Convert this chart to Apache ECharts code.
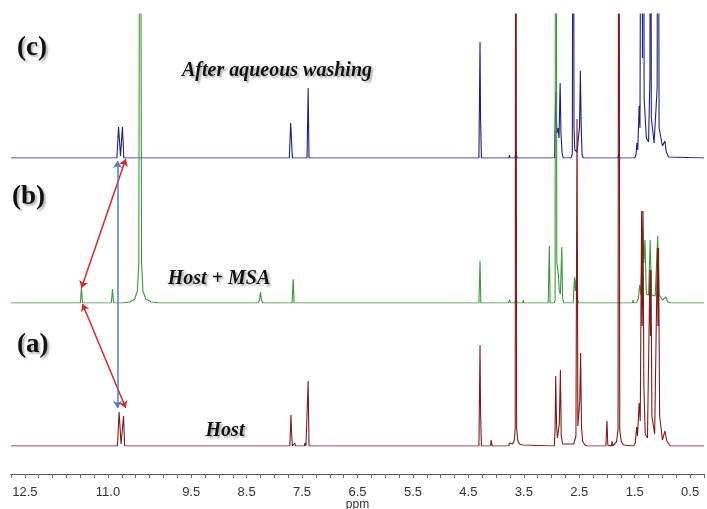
<!DOCTYPE html>
<html>
<head>
<meta charset="utf-8">
<script src="https://cdn.jsdelivr.net/npm/echarts@6/dist/echarts.min.js"></script>
<style>html,body{margin:0;padding:0;background:#fff;}#main{width:707px;height:509px;}</style>
</head>
<body>
<div id="main"></div>
<script>
// ---- axis ----
const xMin = 0.25, xMax = 12.75;
const tickStep = 0.25;
const tickLabels = [12.5, 11.0, 9.5, 8.5, 7.5, 6.5, 5.5, 4.5, 3.5, 2.5, 1.5, 0.5];
const axisName = 'ppm';

// ---- spectrum (c): After aqueous washing  [ppm, intensity] ----
const specC = [
  [12.75,0],[10.93,0],[10.91,2],[10.89,0],
  [10.84,0],[10.81,31],[10.775,2],[10.74,31],[10.715,0],
  [7.73,0],[7.705,35],[7.69,18],[7.675,0],
  [7.41,0],[7.39,70],[7.375,0],
  [7.25,0],[7.24,2],[7.23,0],[7.04,0],[7.03,1.5],[7.02,0],
  [5.40,0],[5.39,2],[5.38,0],[5.20,0],[5.19,1.5],[5.18,0],
  [4.31,0],[4.29,116],[4.28,40],[4.265,0],
  [3.77,0],[3.76,3],[3.75,0],[3.66,0],[3.64,5],[3.62,0],[3.52,0],[3.51,2],[3.50,0],
  [2.945,0],[2.925,66],[2.905,25],[2.885,30],[2.865,20],[2.845,75],[2.83,25],[2.81,5],[2.79,0],
  [2.65,0],[2.625,4],[2.61,600],[2.595,31],[2.58,8],[2.54,6],[2.495,31],[2.48,87],[2.465,31],[2.45,4],[2.43,0],
  [2.32,0],[2.31,2],[2.30,0],[2.11,0],[2.10,2],[2.09,0],[1.93,0],[1.92,2],[1.91,0],
  [1.80,0],[1.785,5],[1.77,0],[1.65,0],[1.64,2],[1.63,0],
  [1.50,0],[1.475,4],[1.46,15],[1.445,8],[1.42,52],[1.405,30],[1.375,600],[1.36,100],[1.345,600],
  [1.33,60],[1.29,20],[1.25,16],[1.225,81],[1.215,600],[1.20,40],[1.15,15],[1.095,70],[1.08,600],
  [1.06,30],[1.00,12],[0.955,17],[0.93,6],[0.89,1],[0.86,0],[0.25,0]
];

// ---- spectrum (b): Host + MSA ----
const specB = [
  [12.75,0],[11.50,0],[11.48,15],[11.46,0],
  [10.94,0],[10.92,14],[10.90,0],
  [10.75,0],[10.6,1],[10.52,4],[10.47,12],[10.445,40],[10.435,300],[10.42,1000],[10.405,300],
  [10.395,40],[10.37,12],[10.32,4],[10.22,1],[10.05,0],
  [8.29,0],[8.265,4],[8.25,11],[8.235,4],[8.21,0],
  [7.68,0],[7.66,24],[7.645,0],
  [4.31,0],[4.29,42],[4.275,0],
  [3.78,0],[3.76,3],[3.74,0],[3.66,0],[3.64,4],[3.62,0],[3.52,0],[3.51,3],[3.50,0],
  [3.06,0],[3.04,57],[3.025,0],
  [2.95,0],[2.935,3],[2.925,1000],[2.905,40],[2.89,35],[2.875,27],[2.86,12],[2.84,9],[2.815,56],[2.80,5],[2.78,0],
  [2.61,0],[2.585,26],[2.57,12],[2.555,24],[2.54,4],[2.53,6],[2.51,0],
  [2.02,0],[2.01,2],[2.00,0],[1.93,0],[1.92,2],[1.91,0],[1.69,0],[1.68,2],[1.67,0],[1.54,0],[1.53,3],[1.52,0],
  [1.47,0],[1.435,4],[1.41,18],[1.39,8],[1.355,75],[1.335,40],[1.315,63],[1.29,9],[1.25,8],
  [1.22,63],[1.20,8],[1.13,7],[1.085,67],[1.06,8],[1.00,3],[0.94,6],[0.90,1],[0.85,0],[0.25,0]
];

// ---- spectrum (a): Host ----
const specA = [
  [12.75,0],[10.83,0],[10.80,34],[10.765,2],[10.72,30],[10.70,0],
  [7.72,0],[7.70,31],[7.69,15],[7.675,0],[7.64,0],[7.63,3],[7.62,0],
  [7.46,0],[7.45,3],[7.43,0],[7.41,0],[7.39,65],[7.375,0],
  [4.31,0],[4.29,101],[4.28,33],[4.265,0],
  [4.10,0],[4.09,6],[4.08,4],[4.07,0],
  [3.77,0],[3.76,3],[3.75,1],[3.70,2],[3.67,6],[3.655,18],[3.645,1000],[3.63,18],[3.61,6],[3.58,2],
  [3.52,1],[3.51,3],[3.50,0],
  [2.95,0],[2.935,20],[2.925,70],[2.91,22],[2.895,8],[2.86,22],[2.84,76],[2.825,10],[2.80,2],[2.78,0],
  [2.60,2],[2.56,10],[2.54,327],[2.525,20],[2.49,46],[2.475,93],[2.46,20],[2.44,5],[2.40,1],[2.36,0],
  [2.02,0],[2.00,25],[1.985,1],[1.97,0],[1.92,0],[1.91,5],[1.90,0],
  [1.87,1],[1.83,4],[1.80,16],[1.785,1000],[1.77,16],[1.74,4],[1.70,1],
  [1.52,0],[1.49,3],[1.465,19],[1.45,10],[1.42,43],[1.40,25],[1.375,235],[1.365,120],[1.35,235],
  [1.335,60],[1.31,12],[1.27,8],[1.225,176],[1.215,110],[1.205,176],[1.19,30],[1.14,12],
  [1.09,198],[1.08,120],[1.07,198],[1.05,30],[1.00,6],[0.955,15],[0.92,5],[0.86,0],[0.25,0]
];

// ---- annotation arrows (grid 0 = c, 1 = b, 2 = a) ----
const arrows = [
  {from:[1, 11.48, 15], to:[0, 10.68, -1], color:'#e02424'},
  {from:[1, 11.46, -1], to:[2, 10.68, 38], color:'#e02424'},
  {from:[0, 10.83, -3], to:[2, 10.83, 38], color:'#4f7fc4'}
];

const gridBaselines = [158, 303, 446]; // px positions of baselines
const gridTop = 14;
const chart = echarts.init(document.getElementById('main'), null, {renderer:'canvas'});

const grids = gridBaselines.map(b => ({left:11, right:3, top:gridTop, bottom:509-b,
  containLabel:false, outerBoundsMode:'none'}));
const xAxes = gridBaselines.map((b,i) => ({
  type:'value', gridIndex:i, min:xMin, max:xMax, inverse:true, interval:tickStep,
  show: i===2, offset: 28, position:'bottom',
  axisLine:{show:true, onZero:false, lineStyle:{color:'#555', width:1}},
  axisTick:{show:true, length:4, lineStyle:{color:'#666'}},
  splitLine:{show:false},
  axisLabel:{show:true, margin:12, color:'#333', fontSize:13, fontFamily:'Liberation Sans, Arial, sans-serif',
    formatter: v => tickLabels.some(t => Math.abs(t - v) < 1e-6) ? v.toFixed(1) : ''},
  name: i===2 ? axisName : '', nameLocation:'middle', nameGap:25, nameMoveOverlap:false,
  nameTextStyle:{color:'#333', fontSize:12, fontFamily:'Liberation Sans, Arial, sans-serif'}
}));
const yAxes = gridBaselines.map((b,i) => ({type:'value', gridIndex:i, min:0, max:b-gridTop, show:false}));

const colors = ['#1f1f80', '#3a9a3a', '#7f1a1a'];
const specs = [specC, specB, specA];
const series = specs.map((d,i) => ({
  type:'line', xAxisIndex:i, yAxisIndex:i, data:d, showSymbol:false, clip:true, z:2+i,
  lineStyle:{color:colors[i], width:1.1}, silent:true, animation:false
}));

const serif = 'Liberation Serif, Times New Roman, serif';
const shadow = {textShadowColor:'rgba(0,0,0,0.3)', textShadowBlur:2, textShadowOffsetX:2, textShadowOffsetY:2};
function txt(x, y, s, size, italic, align){
  return {type:'text', x:x, y:y, z:100, style:Object.assign({
    text:s, fill:'#111', font:(italic?'italic ':'')+'bold '+size+'px '+serif,
    textAlign:align||'left', textVerticalAlign:'middle'}, shadow)};
}

chart.setOption({
  animation:false,
  grid:grids, xAxis:xAxes, yAxis:yAxes, series:series,
  graphic:[
    txt(17, 48, '(c)', 27, false), txt(12, 197, '(b)', 27, false), txt(17, 345, '(a)', 27, false),
    txt(277, 71, 'After aqueous washing', 20, true, 'center'),
    txt(219, 279, 'Host + MSA', 20, true, 'center'),
    txt(225, 431, 'Host', 20, true, 'center')
  ]
});

// convert arrow endpoints into grid (a) data coordinates
function toA(p){
  const px = chart.convertToPixel({gridIndex:p[0]}, [p[1], p[2]]);
  return chart.convertFromPixel({gridIndex:2}, px);
}
const mlData = arrows.map(a => [
  {coord: toA(a.from), lineStyle:{color:a.color, width:1.5, type:'solid'}},
  {coord: toA(a.to)}
]);
chart.setOption({series:[{},{},{markLine:{silent:true, symbol:['arrow','arrow'], symbolSize:7,
  label:{show:false}, animation:false, data:mlData}}]});
</script>
</body>
</html>
